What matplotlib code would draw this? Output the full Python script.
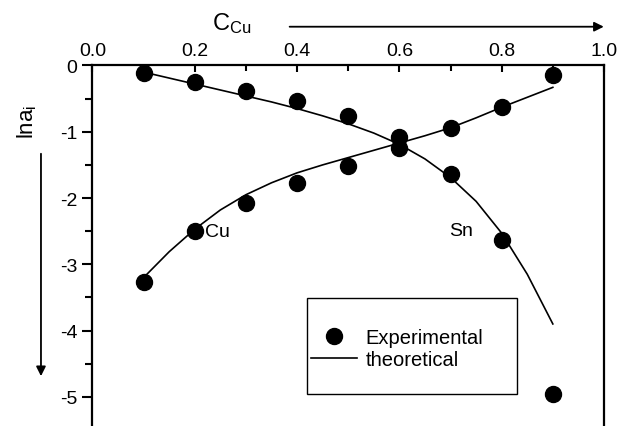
import numpy as np
import matplotlib
matplotlib.use('Agg')
import matplotlib.pyplot as plt
from matplotlib.patches import Rectangle
from matplotlib.lines import Line2D

plt.rcParams['font.family'] = ['Liberation Sans', 'DejaVu Sans']
plt.rcParams['mathtext.fontset'] = 'custom'
plt.rcParams['mathtext.rm'] = 'Liberation Sans'
plt.rcParams['mathtext.it'] = 'Liberation Sans'
plt.rcParams['axes.unicode_minus'] = False

# measured activities (ln a_i) vs copper concentration
c_cu = [0.1, 0.2, 0.3, 0.4, 0.5, 0.6, 0.7, 0.8, 0.9]
lna_cu_exp = [-3.26, -2.50, -2.07, -1.78, -1.51, -1.25, -0.94, -0.62, -0.15]
lna_sn_exp = [-0.11, -0.25, -0.38, -0.54, -0.76, -1.08, -1.63, -2.63, -4.95]

# model curves
c_cu_fit = [0.10, 0.15, 0.20, 0.25, 0.30, 0.35, 0.40, 0.45, 0.50,
            0.55, 0.60, 0.65, 0.70, 0.75, 0.80, 0.85, 0.90]
lna_cu_fit = [-3.20, -2.81, -2.47, -2.18, -1.95, -1.77, -1.62, -1.50, -1.39,
              -1.28, -1.17, -1.06, -0.94, -0.79, -0.63, -0.48, -0.33]
lna_sn_fit = [-0.10, -0.19, -0.28, -0.37, -0.46, -0.55, -0.65, -0.76, -0.88,
              -1.02, -1.19, -1.41, -1.69, -2.05, -2.53, -3.15, -3.90]

fig = plt.figure(figsize=(6.27, 4.27), dpi=100)
ax = fig.add_axes([0.1475, 0.0, 0.8158, 0.8443])

ax.plot(c_cu_fit, lna_cu_fit, color='k', lw=1.2)
ax.plot(c_cu_fit, lna_sn_fit, color='k', lw=1.2)
ax.plot(c_cu, lna_cu_exp, 'o', color='k', ms=11.5, ls='none')
ax.plot(c_cu, lna_sn_exp, 'o', color='k', ms=11.5, ls='none')

ax.set_xlim(0.0, 1.0)
ax.set_ylim(-5.44, 0.0)

ax.xaxis.tick_top()
ax.set_xticks(np.arange(0.0, 1.01, 0.2))
ax.set_xticks(np.arange(0.1, 1.0, 0.2), minor=True)
ax.set_xticklabels(['0.0', '0.2', '0.4', '0.6', '0.8', '1.0'])
ax.set_yticks([0, -1, -2, -3, -4, -5])
ax.set_yticks([-0.5, -1.5, -2.5, -3.5, -4.5], minor=True)
ax.set_yticklabels(['0', '-1', '-2', '-3', '-4', '-5'])

ax.tick_params(axis='x', which='major', direction='in', length=5, width=1.5,
               labelsize=14, pad=4.5, top=True, bottom=False)
ax.tick_params(axis='x', which='minor', direction='in', length=4, width=1.5,
               top=True, bottom=False)
ax.tick_params(axis='y', which='major', direction='out', length=7, width=1.5,
               labelsize=14, pad=4)
ax.tick_params(axis='y', which='minor', direction='out', length=5, width=1.5)

for side in ['top', 'left', 'right']:
    ax.spines[side].set_linewidth(1.6)
ax.spines['bottom'].set_visible(False)

# axis titles with direction arrows
ax.text(0.272, 0.55, r'$\mathrm{C_{Cu}}$', fontsize=17, ha='center',
        va='baseline', clip_on=False)
ax.annotate('', xy=(1.005, 0.585), xytext=(0.38, 0.585),
            arrowprops=dict(arrowstyle='-|>', color='k', lw=1.3,
                            mutation_scale=14),
            annotation_clip=False)
ax.text(-0.128, -0.84, r'ln$\mathrm{a_i}$', rotation=90, fontsize=16,
        ha='center', va='center', clip_on=False)
ax.annotate('', xy=(-0.1007, -4.73), xytext=(-0.1007, -1.29),
            arrowprops=dict(arrowstyle='-|>', color='k', lw=1.3,
                            mutation_scale=14),
            annotation_clip=False)

ax.text(0.22, -2.5, 'Cu', fontsize=14, ha='left', va='center')
ax.text(0.697, -2.49, 'Sn', fontsize=14, ha='left', va='center')

# legend box
ax.add_patch(Rectangle((0.419, 0.0888), 0.411, 0.266, transform=ax.transAxes,
                       fill=False, ec='k', lw=1.0))
handles = [Line2D([], [], marker='o', color='k', ms=11.5, ls='none'),
           Line2D([], [], color='k', lw=1.2)]
ax.legend(handles, ['Experimental', 'theoretical'], loc='upper left',
          bbox_to_anchor=(0.427, 0.271), frameon=False, fontsize=14.5,
          borderpad=0, borderaxespad=0, handlelength=2.3, handletextpad=0.4,
          labelspacing=0.12)

fig.savefig('out.png', dpi=100)
